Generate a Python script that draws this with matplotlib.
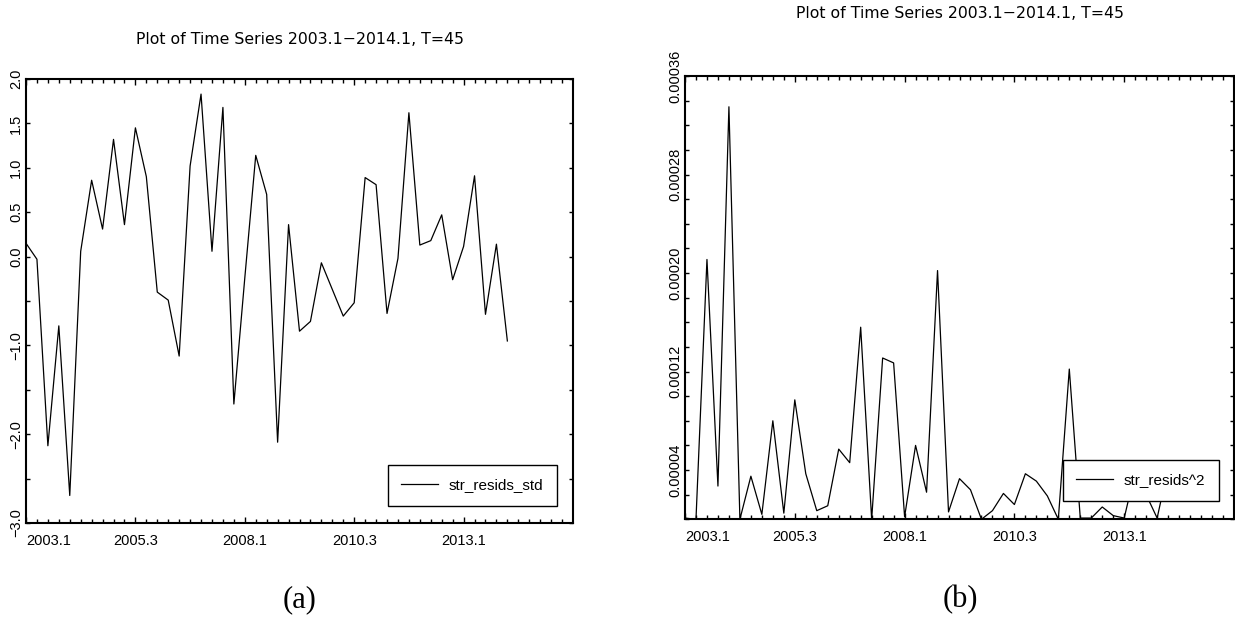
import matplotlib
matplotlib.use("Agg")
import matplotlib.pyplot as plt
import numpy as np

# quarterly index, 2003.1 ... 2014.1 (T=45)
quarters = np.arange(45)
date_tick_pos = [0, 10, 20, 30, 40]
date_tick_labels = ["2003.1", "2005.3", "2008.1", "2010.3", "2013.1"]

# standardised structural residuals (panel a)
resid_std = [0.15, -0.03, -2.13, -0.78, -2.69, 0.06, 0.86, 0.31, 1.32, 0.36,
             1.45, 0.90, -0.40, -0.49, -1.12, 1.02, 1.83, 0.06, 1.68, -1.66,
             -0.24, 1.14, 0.70, -2.09, 0.36, -0.84, -0.73, -0.07, -0.37, -0.67,
             -0.52, 0.89, 0.81, -0.64, -0.02, 1.62, 0.13, 0.18, 0.47, -0.26,
             0.115, 0.91, -0.65, 0.14, -0.95]

# squared structural residuals (panel b)
resid_sq = [0.000001, 0.0, 0.000211, 0.000027, 0.000335, 0.0, 0.000035, 0.000004,
            0.000080, 0.000005, 0.000097, 0.000037, 0.000007, 0.000011, 0.000057,
            0.000046, 0.000156, 0.0, 0.000131, 0.000127, 0.000002, 0.000060,
            0.000022, 0.000202, 0.000006, 0.000033, 0.000024, 0.0, 0.000007,
            0.000021, 0.000012, 0.000037, 0.000031, 0.000019, 0.0, 0.000122,
            0.000001, 0.000001, 0.000010, 0.000003, 0.000001, 0.000039,
            0.000020, 0.000001, 0.000042]

ya_ticks = [-3.0, -2.5, -2.0, -1.5, -1.0, -0.5, 0.0, 0.5, 1.0, 1.5, 2.0]
ya_labels = ["\u22123.0", "", "\u22122.0", "", "\u22121.0", "", "0.0", "0.5", "1.0", "1.5", "2.0"]
yb_ticks = [0.00002 * k for k in range(19)]
yb_label_map = {2: "0.00004", 6: "0.00012", 10: "0.00020", 14: "0.00028", 18: "0.00036"}
yb_labels = [yb_label_map.get(k, "") for k in range(19)]

title = "Plot of Time Series 2003.1\u22122014.1, T=45"

plt.rcParams["font.family"] = ["Liberation Sans", "DejaVu Sans"]

fig = plt.figure(figsize=(12.35, 6.26), dpi=100)
ax_a = fig.add_axes([26 / 1235, 1 - 523 / 626, 547 / 1235, 444 / 626])
ax_b = fig.add_axes([685 / 1235, 1 - 519.3 / 626, 549 / 1235, 443.3 / 626])


def style_axis(ax, yticks, ylabels):
    for sp in ax.spines.values():
        sp.set_linewidth(1.5)
    ax.set_xlim(0, 50)
    ax.set_xticks(date_tick_pos)
    ax.set_xticklabels(date_tick_labels, fontsize=10.5)
    ax.set_xticks(np.arange(1, 50), minor=True)
    ax.xaxis.set_minor_formatter(plt.NullFormatter())
    ax.get_xticklabels()[0].set_horizontalalignment("left")
    ax.tick_params(axis="x", which="major", direction="in", length=4.5, width=1,
                   top=True, bottom=True, pad=8)
    ax.tick_params(axis="x", which="minor", direction="in", length=2.8, width=1,
                   top=True, bottom=True)
    ax.set_yticks(yticks)
    ax.set_yticklabels(ylabels, fontsize=10.5, rotation=90, va="center")
    ax.tick_params(axis="y", which="major", direction="in", length=3.2, width=1,
                   left=True, right=True, pad=2)


ax_a.plot(quarters, resid_std, color="black", linewidth=0.9, label="str_resids_std")
ax_a.set_ylim(-3.0, 2.0)
style_axis(ax_a, ya_ticks, ya_labels)
ax_a.set_title(title, fontsize=11.3, family="DejaVu Sans", pad=0, y=1 + 35 / 444)
ax_a.legend(loc="lower right", bbox_to_anchor=(557 / 1235, 1 - 506 / 626),
            bbox_transform=fig.transFigure, fontsize=11, frameon=True,
            fancybox=False, edgecolor="black", framealpha=1, borderpad=0.9,
            handlelength=2.4, handletextpad=0.7, borderaxespad=0)
ax_a.get_legend().get_frame().set_linewidth(1.0)

ax_b.plot(quarters, resid_sq, color="black", linewidth=0.9, label="str_resids^2")
ax_b.set_ylim(0, 0.00036)
style_axis(ax_b, yb_ticks, yb_labels)
ax_b.set_title(title, fontsize=11.3, family="DejaVu Sans", pad=0, y=1 + 58 / 443.3)
ax_b.legend(loc="lower right", bbox_to_anchor=(1219 / 1235, 1 - 501 / 626),
            bbox_transform=fig.transFigure, fontsize=11, frameon=True,
            fancybox=False, edgecolor="black", framealpha=1, borderpad=0.9,
            handlelength=2.4, handletextpad=0.7, borderaxespad=0)
ax_b.get_legend().get_frame().set_linewidth(1.0)

fig.text(300 / 1235, 1 - 600 / 626, "(a)", ha="center", va="center",
         fontsize=22, family="Liberation Serif")
fig.text(960 / 1235, 1 - 600 / 626, "(b)", ha="center", va="center",
         fontsize=22, family="Liberation Serif")

fig.savefig("out.png", dpi=100)
